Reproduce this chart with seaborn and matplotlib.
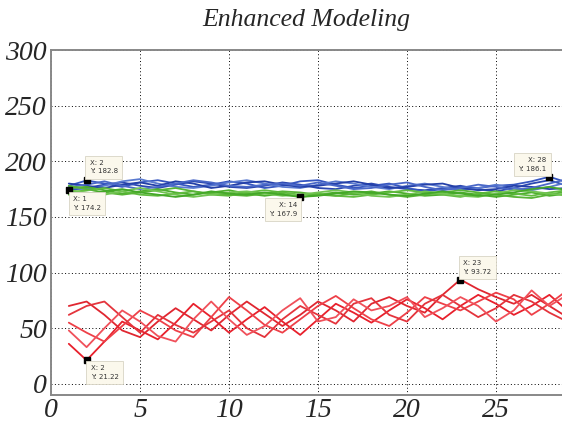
import numpy as np
import pandas as pd
import matplotlib
matplotlib.use("Agg")
import matplotlib.pyplot as plt
import seaborn as sns

# iteration index (x axis)
x = list(range(1, 31))

# blue runs
b1 = [174.2, 176, 179, 181, 178, 176, 179, 182, 180, 177, 176, 178, 181, 179, 176,
      175, 178, 180, 177, 175, 174, 176, 178, 175, 173, 176, 180, 183, 178, 175]
b2 = [178, 182.8, 180, 177, 181, 183, 180, 177, 179, 182, 180, 176, 178, 182, 183,
      179, 176, 178, 180, 176, 173, 175, 177, 176, 178, 179, 182, 186.1, 181, 177]
b3 = [176, 175, 178, 182, 184, 180, 177, 176, 178, 181, 183, 180, 177, 176, 179,
      182, 180, 177, 175, 178, 180, 177, 174, 176, 179, 176, 174, 177, 181, 179]
b4 = [180, 178, 176, 179, 181, 178, 182, 180, 176, 178, 181, 182, 179, 177, 178,
      180, 182, 179, 176, 177, 179, 180, 176, 174, 175, 178, 177, 175, 176, 180]
b5 = [177, 179, 182, 178, 175, 177, 180, 183, 181, 178, 177, 179, 180, 178, 181,
      178, 175, 176, 179, 181, 177, 174, 176, 179, 177, 174, 176, 180, 184, 178]

# green runs
g1 = [176, 177, 174, 171, 173, 175, 172, 170, 172, 174, 171, 169, 171, 167.9, 170,
      172, 170, 171, 173, 171, 169, 170, 172, 170, 168, 170, 172, 169, 171, 173]
g2 = [172, 174, 176, 173, 170, 169, 171, 173, 170, 169, 172, 174, 172, 170, 171,
      169, 168, 170, 172, 174, 172, 170, 168, 171, 173, 171, 169, 172, 174, 171]
g3 = [178, 175, 172, 170, 172, 174, 176, 173, 171, 170, 169, 171, 173, 172, 170,
      169, 171, 173, 170, 168, 170, 172, 174, 172, 170, 168, 167, 170, 173, 175]
g4 = [174, 172, 170, 173, 176, 173, 170, 168, 170, 172, 173, 171, 169, 170, 172,
      174, 172, 169, 168, 170, 173, 171, 169, 168, 171, 174, 173, 171, 169, 172]
g5 = [170, 171, 173, 175, 172, 170, 168, 170, 173, 171, 170, 172, 170, 168, 169,
      171, 173, 172, 170, 169, 171, 173, 171, 169, 170, 172, 175, 177, 174, 170]

# red runs
r1 = [36, 21.22, 38, 56, 48, 40, 55, 72, 60, 46, 58, 69, 56, 44, 58,
      72, 64, 55, 66, 76, 68, 58, 70, 80, 72, 62, 70, 80, 66, 56]
r2 = [70, 74, 62, 48, 42, 56, 68, 58, 48, 62, 74, 63, 52, 62, 74,
      66, 56, 72, 78, 70, 64, 80, 93.72, 85, 78, 72, 80, 70, 60, 72]
r3 = [55, 46, 38, 52, 66, 58, 48, 42, 60, 78, 66, 53, 46, 58, 70,
      79, 68, 58, 52, 64, 78, 72, 66, 74, 82, 76, 62, 72, 84, 75]
r4 = [62, 70, 74, 60, 46, 62, 53, 46, 56, 66, 50, 42, 58, 70, 62,
      54, 72, 77, 62, 56, 72, 80, 70, 60, 68, 80, 74, 64, 56, 50]
r5 = [48, 33, 50, 66, 56, 43, 38, 58, 74, 58, 44, 52, 66, 77, 56,
      60, 76, 66, 70, 78, 60, 68, 78, 70, 56, 66, 84, 70, 80, 88]

runs = {"b1": b1, "b2": b2, "b3": b3, "b4": b4, "b5": b5,
        "g1": g1, "g2": g2, "g3": g3, "g4": g4, "g5": g5,
        "r1": r1, "r2": r2, "r3": r3, "r4": r4, "r5": r5}
palette = {"b1": "#2b47b0", "b2": "#3656c0", "b3": "#5a7ad0", "b4": "#2440a8", "b5": "#4a68c8",
           "g1": "#4cae2c", "g2": "#62bc40", "g3": "#58b436", "g4": "#72c452", "g5": "#44a828",
           "r1": "#e8202c", "r2": "#e02630", "r3": "#ee4048", "r4": "#e4343c", "r5": "#f0505a"}

# data tips: (x, y, offset px, ha, va)
tips = [(2, 182.8, (3, 6), "left", "bottom"),
        (1, 174.2, (4, -6), "left", "top"),
        (14, 167.9, (-3, -5), "right", "top"),
        (28, 186.1, (-3, 5), "right", "bottom"),
        (23, 93.72, (3, 5), "left", "bottom"),
        (2, 21.22, (4, -5), "left", "top")]

df = pd.concat([pd.DataFrame({"x": x, "value": v, "run": k}) for k, v in runs.items()],
               ignore_index=True)

sns.set_style("white")
plt.rcParams["font.family"] = ["Liberation Serif", "DejaVu Serif"]
plt.rcParams["font.style"] = "italic"

fig = plt.figure(figsize=(5.62, 4.25), dpi=100)
ax = fig.add_axes([51 / 562, 30 / 425, 534 / 562, 345 / 425])

sns.lineplot(data=df, x="x", y="value", hue="run", palette=palette, units="run",
             estimator=None, legend=False, linewidth=1.3, ax=ax)

ax.set_xlim(0, 30)
ax.set_ylim(-10, 300)
ax.set_xticks(range(0, 26, 5))
ax.set_yticks(range(0, 301, 50))
ax.set_xlabel("")
ax.set_ylabel("")
ax.grid(True, color="black", linestyle=(0, (1, 2.5)), linewidth=0.7)
for s in ax.spines.values():
    s.set_color("#888888")
    s.set_linewidth(1.4)
ax.tick_params(direction="in", length=4, color="#888888", labelsize=20)
ax.tick_params(axis="x", pad=2)
ax.tick_params(axis="y", pad=3)

for tx, ty, off, ha, va in tips:
    ax.plot([tx], [ty], marker="s", color="black", markersize=4, zorder=5)
    ax.annotate(f"X: {tx}\nY: {ty:g}", xy=(tx, ty), xytext=off, textcoords="offset pixels",
                ha=ha, va=va, fontsize=5, family="DejaVu Sans", style="normal",
                color="#333333", linespacing=1.5, zorder=6,
                bbox=dict(boxstyle="square,pad=0.6", fc="#fbf8ec", ec="#d8d4c4", lw=0.6))

fig.text(306 / 562, 0.952, "Enhanced Modeling", ha="center", va="center",
         fontsize=18.5, fontstyle="italic")

fig.savefig("out.png", dpi=100)
